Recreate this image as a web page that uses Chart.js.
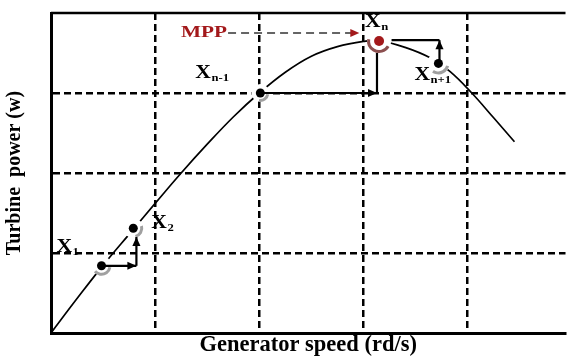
<!DOCTYPE html>
<html>
<head>
<meta charset="utf-8">
<script src="https://cdn.jsdelivr.net/npm/chart.js@4.4.1/dist/chart.umd.min.js"></script>
<style>
  html, body { margin: 0; padding: 0; background: #fff; }
  canvas { display: block; }
</style>
</head>
<body>
<canvas id="chart" width="570" height="359"></canvas>
<script>
// turbine power curve against generator speed
const speed = [0, 0.25, 0.49, 0.78, 1.0, 1.25, 1.5, 1.75, 2.0, 2.25, 2.5, 2.75, 3.0, 3.15, 3.4, 3.64, 3.83, 4.04, 4.25, 4.45];
const power = [0, 0.43, 0.83, 1.28, 1.62, 2.0, 2.36, 2.70, 3.0, 3.26, 3.46, 3.58, 3.645, 3.655, 3.57, 3.44, 3.27, 3.0, 2.69, 2.39];

// operating points of the search
const stepNames = ['1', '2', 'n-1', 'n', 'n+1'];
const stepSpeed = [0.485, 0.79, 2.01, 3.15, 3.72];
const stepPower = [0.84, 1.31, 3.0, 3.65, 3.37];

// moves between points: [speed from, power from, speed to, power to]
const moves = [
  [0.485, 0.84, 0.82, 0.84],
  [0.82, 0.84, 0.82, 1.2],
  [2.01, 3.0, 3.13, 3.0],
  [3.13, 3.0, 3.13, 3.5],
  [3.27, 3.66, 3.73, 3.66],
  [3.73, 3.37, 3.73, 3.66]
];
const moveHeads = [true, true, true, false, false, true];

// MPP pointer
const mppSpeed = [1.70, 2.96];
const mppPower = 3.75;

const serif = "'Liberation Serif', 'Times New Roman', serif";
const black = '#000';
const mppRed = '#a3191b';

// label placement around each point (px offsets of the X), halo arcs
const labelOffsets = [[-45, -14], [18, 0], [-65, -15], [-14, -14], [-24, 17]];
const arcAngles = [[10, 140], [-15, 75], [10, 100], [30, 190], [15, 125]];
const haloRadius = [10, 10, 9, 12, 11];

function arrowHead(ctx, x1, y1, x2, y2, size, color) {
  const a = Math.atan2(y2 - y1, x2 - x1);
  ctx.save();
  ctx.fillStyle = color;
  ctx.beginPath();
  ctx.moveTo(x2, y2);
  ctx.lineTo(x2 - size * Math.cos(a) + size * 0.45 * Math.sin(a), y2 - size * Math.sin(a) - size * 0.45 * Math.cos(a));
  ctx.lineTo(x2 - size * Math.cos(a) - size * 0.45 * Math.sin(a), y2 - size * Math.sin(a) + size * 0.45 * Math.cos(a));
  ctx.closePath();
  ctx.fill();
  ctx.restore();
}

// text drawn a little wider than the font gives
function wideText(ctx, text, x, y, sx) {
  ctx.save();
  ctx.translate(x, y);
  ctx.scale(sx, 1);
  ctx.fillText(text, 0, 0);
  const w = ctx.measureText(text).width * sx;
  ctx.restore();
  return w;
}

const sketch = {
  id: 'sketch',
  beforeDatasetsDraw(chart) {
    const { ctx, chartArea } = chart;
    ctx.save();
    ctx.strokeStyle = black;
    ctx.lineWidth = 2.5;
    ctx.beginPath();
    ctx.moveTo(chartArea.left, chartArea.top);
    ctx.lineTo(chartArea.right, chartArea.top);
    ctx.stroke();
    ctx.restore();
  },
  afterDatasetDraw(chart, args) {
    if (args.index !== 0) return;
    const { ctx } = chart;
    const xs = chart.scales.x, ys = chart.scales.y;

    // white halo and grey arc round every point
    stepSpeed.forEach((s, i) => {
      const px = xs.getPixelForValue(s), py = ys.getPixelForValue(stepPower[i]);
      ctx.save();
      ctx.fillStyle = '#fff';
      ctx.beginPath();
      ctx.arc(px, py, haloRadius[i], 0, Math.PI * 2);
      ctx.fill();
      ctx.strokeStyle = i === 3 ? '#8c4f4f' : '#a0a0a0';
      ctx.lineWidth = 3;
      ctx.beginPath();
      ctx.arc(px, py, haloRadius[i] - 1.5, arcAngles[i][0] * Math.PI / 180, arcAngles[i][1] * Math.PI / 180);
      ctx.stroke();
      ctx.restore();
    });

    // step moves
    moves.forEach((m, i) => {
      const x1 = xs.getPixelForValue(m[0]), y1 = ys.getPixelForValue(m[1]);
      const x2 = xs.getPixelForValue(m[2]), y2 = ys.getPixelForValue(m[3]);
      ctx.save();
      ctx.strokeStyle = black;
      ctx.lineWidth = 2.2;
      ctx.beginPath();
      ctx.moveTo(x1, y1);
      ctx.lineTo(x2, y2);
      ctx.stroke();
      ctx.restore();
      if (moveHeads[i]) arrowHead(ctx, x1, y1, x2, y2, 9, black);
    });
  },
  afterDatasetsDraw(chart) {
    const { ctx } = chart;
    const xs = chart.scales.x, ys = chart.scales.y;

    // X labels with subscripts
    stepSpeed.forEach((s, i) => {
      const px = xs.getPixelForValue(s) + labelOffsets[i][0];
      const py = ys.getPixelForValue(stepPower[i]) + labelOffsets[i][1];
      ctx.save();
      ctx.fillStyle = black;
      ctx.textBaseline = 'alphabetic';
      ctx.font = 'bold 18px ' + serif;
      const w = wideText(ctx, 'X', px, py, 1.2);
      ctx.font = 'bold 11px ' + serif;
      wideText(ctx, stepNames[i], px + w + 0.5, py + 3, 1.15);
      ctx.restore();
    });

    // MPP pointer
    const y = ys.getPixelForValue(mppPower);
    const xa = xs.getPixelForValue(mppSpeed[0]), xb = xs.getPixelForValue(mppSpeed[1]);
    ctx.save();
    ctx.font = 'bold 17px ' + serif;
    ctx.fillStyle = mppRed;
    ctx.textAlign = 'right';
    ctx.textBaseline = 'middle';
    wideText(ctx, 'MPP', xa - 1, y, 1.25);
    ctx.strokeStyle = '#333';
    ctx.lineWidth = 1.5;
    ctx.setLineDash([8, 5]);
    ctx.beginPath();
    ctx.moveTo(xa, y);
    ctx.lineTo(xb - 6, y);
    ctx.stroke();
    ctx.restore();
    arrowHead(ctx, xa, y, xb, y, 9, mppRed);
  }
};

const gridColor = (c) => {
  const v = c.tick ? c.tick.value : null;
  return (Number.isInteger(v) && v > 0 && v < c.scale.max) ? black : 'rgba(0,0,0,0)';
};

new Chart(document.getElementById('chart'), {
  type: 'line',
  data: {
    datasets: [{
      data: speed.map((s, i) => ({ x: s, y: power[i] })),
      borderColor: black,
      borderWidth: 1.7,
      pointRadius: 0,
      tension: 0.4,
      fill: false,
      order: 2
    }, {
      data: stepSpeed.map((s, i) => ({ x: s, y: stepPower[i] })),
      showLine: false,
      pointRadius: stepSpeed.map((s, i) => i === 3 ? 5 : 4.5),
      pointBackgroundColor: stepSpeed.map((s, i) => i === 3 ? mppRed : black),
      pointBorderWidth: 0,
      order: 1
    }]
  },
  options: {
    responsive: false,
    animation: false,
    events: [],
    layout: { padding: { top: 13, right: 0, left: 0, bottom: 0 } },
    plugins: { legend: { display: false }, tooltip: { enabled: false } },
    scales: {
      x: {
        type: 'linear',
        min: 0,
        max: 4.94,
        ticks: { display: false, stepSize: 1 },
        grid: { color: gridColor, lineWidth: 2.5, drawTicks: false },
        border: { display: true, color: black, width: 3, dash: [7, 4] },
        title: {
          display: true,
          text: 'Generator speed (rd/s)',
          color: black,
          font: { family: serif, size: 22.5, weight: 'bold' },
          padding: 0
        },
        afterFit: (scale) => { scale.height = 26; }
      },
      y: {
        type: 'linear',
        min: 0,
        max: 4,
        ticks: { display: false, stepSize: 1 },
        grid: { color: gridColor, lineWidth: 2.5, drawTicks: false },
        border: { display: true, color: black, width: 3, dash: [7, 4] },
        title: {
          display: true,
          text: 'Turbine  power (w)',
          color: black,
          font: { family: serif, size: 20, weight: 'bold' },
          padding: { top: 3, bottom: 0 }
        },
        afterFit: (scale) => { scale.width = 51; }
      }
    }
  },
  plugins: [sketch]
});
</script>
</body>
</html>
